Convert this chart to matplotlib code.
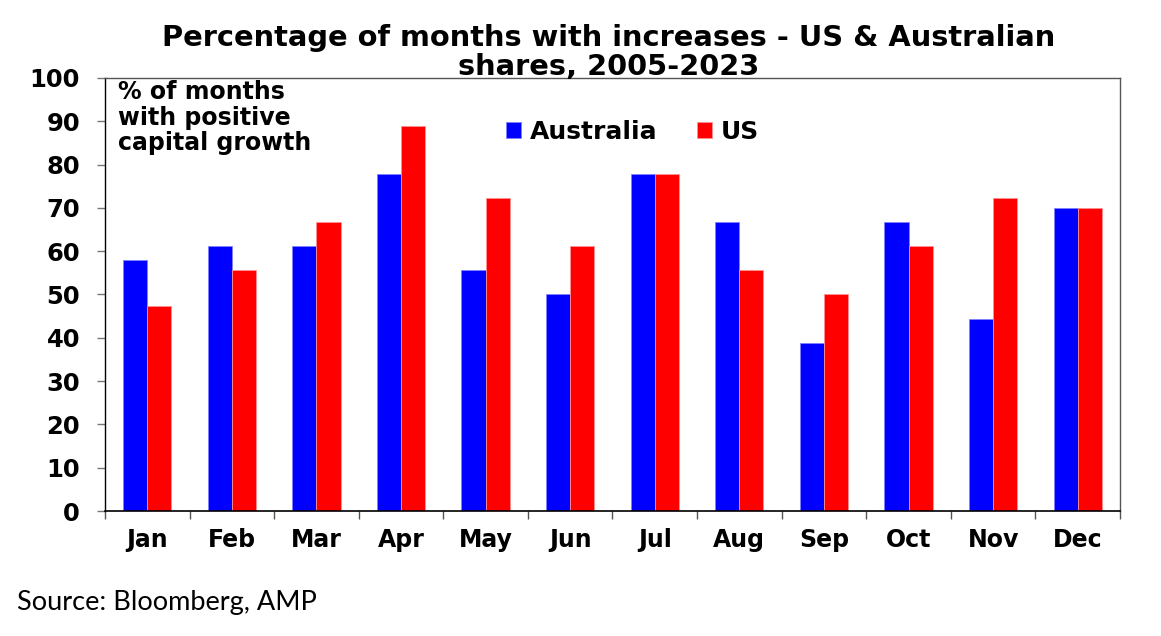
import matplotlib
matplotlib.use("Agg")
import matplotlib.pyplot as plt
import numpy as np

# Data
months = ["Jan", "Feb", "Mar", "Apr", "May", "Jun",
          "Jul", "Aug", "Sep", "Oct", "Nov", "Dec"]
australia = [57.9, 61.1, 61.1, 77.8, 55.6, 50.0, 77.8, 66.7, 38.9, 66.7, 44.4, 70.0]
us = [47.4, 55.6, 66.7, 88.9, 72.2, 61.1, 77.8, 55.6, 50.0, 61.1, 72.2, 70.0]
yticks = list(range(0, 101, 10))

plt.rcParams["font.family"] = ["DejaVu Sans"]

fig = plt.figure(figsize=(11.61, 6.36), dpi=100)
ax = fig.add_axes([0.0904, 0.1965, 0.8743, 0.6809])

x = np.arange(len(months))
w = 0.285
ax.bar(x - w / 2, australia, w, color="#0000ff", edgecolor="#8080ff",
       linewidth=0.6, label="Australia")
ax.bar(x + w / 2, us, w, color="#ff0000", edgecolor="#ff9090",
       linewidth=0.6, label="US")

ax.set_xlim(-0.5, len(months) - 0.5)
ax.set_ylim(0, 100)

# ticks at the boundaries, labels in the middle
ax.set_xticks(np.arange(-0.5, len(months), 1.0))
ax.set_xticklabels([])
ax.set_xticks(x, minor=True)
ax.set_xticklabels(months, minor=True, fontsize=17, fontweight="bold")
ax.tick_params(axis="x", which="minor", length=0, pad=12)
ax.tick_params(axis="x", which="major", length=6, width=1, color="#555555",
               direction="out")

ax.set_yticks(yticks)
ax.set_yticklabels([str(t) for t in yticks], fontsize=17.5, fontweight="bold")
ax.tick_params(axis="y", length=6, width=1, color="#777777", direction="out", pad=12)

for side in ["top", "right"]:
    ax.spines[side].set_color("#555555")
    ax.spines[side].set_linewidth(1)
ax.spines["left"].set_color("black")
ax.spines["bottom"].set_color("black")
ax.spines["left"].set_linewidth(1)
ax.spines["bottom"].set_linewidth(1.2)

ax.text(0.013, 0.995, "% of months\nwith positive\ncapital growth",
        transform=ax.transAxes, ha="left", va="top", fontsize=17,
        fontweight="bold", linespacing=1.08)

ax.legend(loc="center", bbox_to_anchor=(0.52, 0.875), ncol=2, frameon=False,
          prop={"size": 18, "weight": "bold"}, handlelength=0.6,
          handleheight=0.6, handletextpad=0.35, columnspacing=1.6)

fig.text(0.524, 0.918, "Percentage of months with increases - US & Australian\nshares, 2005-2023",
         ha="center", va="center", fontsize=20.8, fontweight="bold", linespacing=1.05)

fig.text(0.015, 0.052, "Source: Bloomberg, AMP", ha="left", va="center",
         fontsize=19.5, family=["Lato", "DejaVu Sans"])

fig.savefig("out.png", dpi=100)
